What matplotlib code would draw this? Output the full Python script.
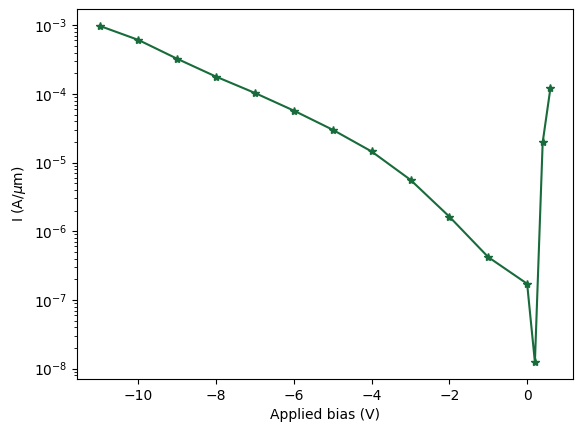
import matplotlib
matplotlib.use("Agg")
import matplotlib.pyplot as plt

bias = [-11, -10, -9, -8, -7, -6, -5, -4, -3, -2, -1, 0, 0.2, 0.4, 0.6]
current = [9.8e-4, 6.1e-4, 3.24e-4, 1.78e-4, 1.03e-4, 5.7e-5, 3.0e-5, 1.45e-5,
           5.6e-6, 1.63e-6, 4.2e-7, 1.72e-7, 1.24e-8, 1.97e-5, 1.22e-4]

fig = plt.figure(figsize=(5.82, 4.32), dpi=100)
ax = fig.add_axes([77/582, 53/432, 496/582, 370/432])
ax.plot(bias, current, marker='*', color='#186b3a')
ax.set_yscale('log')
ax.set_xlabel('Applied bias (V)')
ax.set_ylabel(r'I (A/$\mu$m)')

fig.savefig('out.png', dpi=100)
